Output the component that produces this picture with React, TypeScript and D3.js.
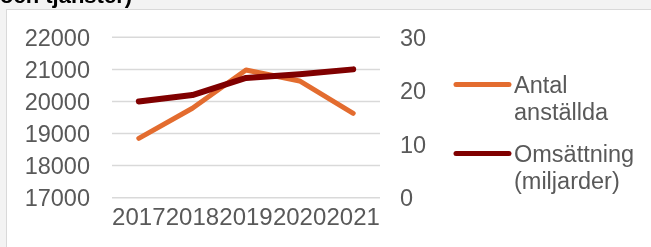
import React from 'react';
import * as d3 from 'd3';

const years = ['2017', '2018', '2019', '2020', '2021'];
const employees = [18850, 19790, 20980, 20640, 19630];
const turnover = [18.0, 19.2, 22.4, 23.1, 24.0];
const leftTicks = [17000, 18000, 19000, 20000, 21000, 22000];
const rightTicks = [0, 10, 20, 30];

const W = 651;
const H = 247;
const font = '"Liberation Sans", Arial, sans-serif';
const grey = '#595959';
const orange = '#E36C2F';
const darkRed = '#800000';

export default function App() {
  const x = d3.scaleBand<string>().domain(years).range([112, 380]);
  const yL = d3.scaleLinear().domain([17000, 22000]).range([197.7, 37.3]);
  const yR = d3.scaleLinear().domain([0, 30]).range([197.7, 37.3]);

  const cx = (d: string) => (x(d) ?? 0) + x.bandwidth() / 2;

  const empLine = d3.line<number>()
    .x((_, i) => cx(years[i]))
    .y(d => yL(d));
  const turnLine = d3.line<number>()
    .x((_, i) => cx(years[i]))
    .y(d => yR(d));

  const legend = [
    { color: orange, lines: ['Antal', 'anställda'], y: 84.5 },
    { color: darkRed, lines: ['Omsättning', '(miljarder)'], y: 153.5 },
  ];

  return (
    <svg
      width={W}
      height={H}
      style={{ position: 'fixed', left: 0, top: 0 }}
      fontFamily={font}
    >
      <rect x={0} y={0} width={W} height={H} fill="#f3f3f3" />
      {/* title, cut off at the top as in the source */}
      <text x={0} y={3} fontSize={22} fontWeight="bold" fill="#000">
        och tjänster)
      </text>
      <rect x={6.5} y={9.5} width={W} height={H} fill="#fff" stroke="#d9d9d9" strokeWidth={1} />

      {/* gridlines */}
      {leftTicks.map(t => (
        <line key={t} x1={112} x2={380} y1={yL(t)} y2={yL(t)} stroke="#d9d9d9" strokeWidth={1.5} />
      ))}

      {/* left axis */}
      {leftTicks.map(t => (
        <text key={t} x={90} y={yL(t)} dy="0.36em" textAnchor="end" fontSize={23.5} fill={grey}>
          {t}
        </text>
      ))}

      {/* right axis */}
      {rightTicks.map(t => (
        <text key={t} x={400} y={yR(t)} dy="0.36em" fontSize={23.5} fill={grey}>
          {t}
        </text>
      ))}

      {/* categories */}
      {years.map(y => (
        <text key={y} x={cx(y)} y={225} textAnchor="middle" fontSize={24} fill={grey}>
          {y}
        </text>
      ))}

      <path d={empLine(employees) ?? ''} fill="none" stroke={orange} strokeWidth={5} strokeLinejoin="round" strokeLinecap="round" />
      <path d={turnLine(turnover) ?? ''} fill="none" stroke={darkRed} strokeWidth={6} strokeLinejoin="round" strokeLinecap="round" />

      {/* legend */}
      {legend.map(l => (
        <g key={l.lines[0]}>
          <line x1={456} x2={509} y1={l.y} y2={l.y} stroke={l.color} strokeWidth={5} strokeLinecap="round" />
          {l.lines.map((s, i) => (
            <text key={s} x={514} y={l.y + 8.5 + i * 27} fontSize={23.5} fill={grey}>
              {s}
            </text>
          ))}
        </g>
      ))}
    </svg>
  );
}
